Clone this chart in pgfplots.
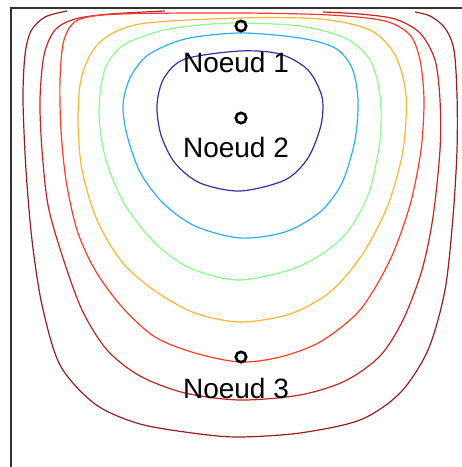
\documentclass[border=0pt]{standalone}
\usepackage{pgfplots}
\pgfplotsset{compat=1.18}
\usepackage{fontspec}
\setmainfont{Liberation Sans}

\definecolor{c1}{RGB}{150,30,30}
\definecolor{c2}{RGB}{200,35,35}
\definecolor{c3}{RGB}{255,60,40}
\definecolor{c4}{RGB}{255,180,50}
\definecolor{c5}{RGB}{140,250,140}
\definecolor{c6}{RGB}{40,175,255}
\definecolor{c7}{RGB}{50,50,160}

\begin{document}
\begin{tikzpicture}
  \begin{axis}[
      width=462pt, height=467pt,
      scale only axis,
      xmin=0, xmax=462,
      ymin=0, ymax=467,
      y dir=reverse,
      axis line style={draw=none},
      xtick=\empty, ytick=\empty,
      clip=true,
      every axis plot/.append style={line width=1.2pt},
    ]
    % frame (left and top edges only)
    \addplot[color=black!80, line width=2pt] coordinates {
      (11,467) (11,8) (462,8)};

    % outer streamline
    \addplot[color=c1, smooth] coordinates {
      (67,11) (45,17) (31,31) (25,55) (23,100) (26,170) (32,240) (42,305)
      (60,365) (95,404) (140,424) (200,434) (240,437) (300,433) (360,420)
      (400,393) (428,350) (445,290) (453,217) (457,150) (457,95) (454,50)
      (445,28) (430,16) (415,12)};

    \addplot[color=c2, smooth] coordinates {
      (165,11) (110,14) (75,19) (55,30) (44,55) (40,100) (42,150) (48,205)
      (62,255) (82,310) (107,350) (140,376) (185,393) (240,400) (300,395)
      (345,381) (380,356) (403,320) (422,270) (433,217) (440,150) (440,100)
      (435,60) (420,33) (395,19) (360,14) (323,12)};

    \addplot[color=c3, smooth cycle] coordinates {
      (240,13) (330,15) (385,21) (410,35) (420,60) (424,100) (421,150)
      (410,205) (390,260) (360,310) (320,342) (280,357) (240,362) (195,353)
      (155,337) (122,307) (95,270) (77,230) (66,180) (61,130) (60,80)
      (64,40) (78,20) (120,14)};

    \addplot[color=c4, smooth cycle] coordinates {
      (240,18) (320,19) (370,30) (395,55) (406,95) (403,150) (388,205)
      (362,255) (330,292) (290,314) (240,322) (195,313) (155,291) (122,262)
      (97,220) (82,170) (78,120) (82,75) (100,42) (140,24)};

    \addplot[color=c5, smooth cycle] coordinates {
      (240,23) (300,26) (345,38) (370,60) (380,95) (380,140) (368,195)
      (343,237) (300,266) (240,280) (190,268) (155,243) (125,205) (106,160)
      (99,115) (104,72) (122,46) (160,31) (200,25)};

    \addplot[color=c6, smooth cycle] coordinates {
      (240,33) (300,38) (335,48) (352,68) (358,100) (355,140) (342,183)
      (320,212) (285,232) (240,238) (195,226) (163,203) (140,172) (127,135)
      (123,105) (130,78) (148,55) (185,39)};

    \addplot[color=c7, smooth cycle] coordinates {
      (240,51) (280,54) (308,70) (322,97) (321,125) (308,158) (285,180)
      (240,191) (200,183) (175,163) (161,135) (157,105) (164,78) (185,59)};

    % nodes
    \addplot[only marks, mark=o, mark size=5.2pt, color=black,
      mark options={line width=2.6pt}]
      coordinates {(241,26) (241,118) (241,357)};

    \node[anchor=base, font=\fontsize{28}{30}\selectfont] at (axis cs:236,72) {Noeud 1};
    \node[anchor=base, font=\fontsize{28}{30}\selectfont] at (axis cs:236,157) {Noeud 2};
    \node[anchor=base, font=\fontsize{28}{30}\selectfont] at (axis cs:236,398) {Noeud 3};
  \end{axis}
\end{tikzpicture}
\end{document}
